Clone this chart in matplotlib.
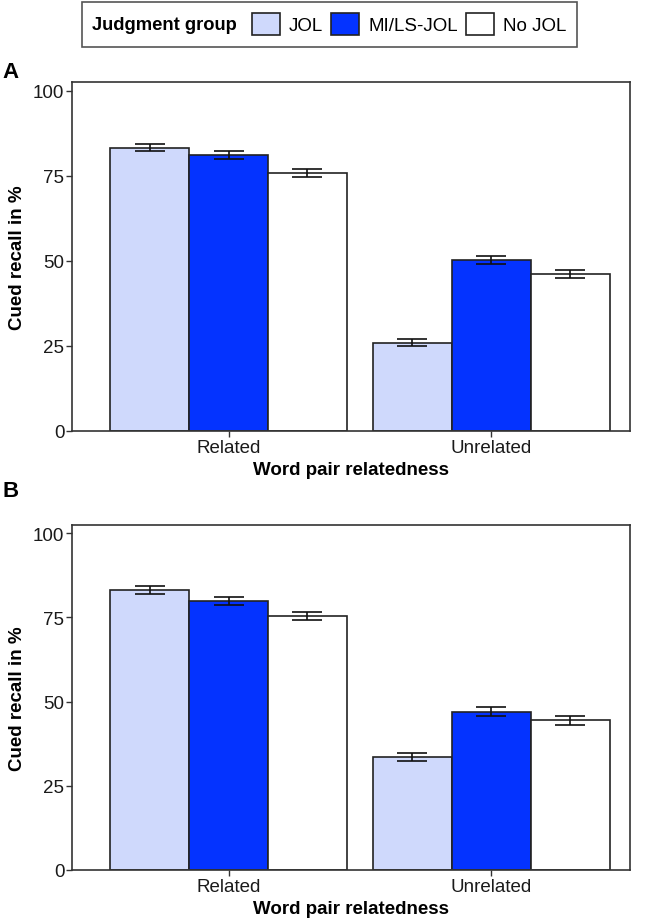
import numpy as np
import matplotlib
matplotlib.use("Agg")
import matplotlib.pyplot as plt
from matplotlib.patches import Rectangle, Patch

plt.rcParams['font.family'] = ['Liberation Sans', 'DejaVu Sans']

# data
relatedness = ["Related", "Unrelated"]
groups = ["JOL", "MI/LS-JOL", "No JOL"]
colors = ["#cfd9fc", "#0433ff", "#ffffff"]

recall_a = {"JOL": [83.3, 26.0], "MI/LS-JOL": [81.1, 50.3], "No JOL": [75.9, 46.1]}
err_a = {"JOL": [1.1, 1.1], "MI/LS-JOL": [1.1, 1.2], "No JOL": [1.1, 1.2]}

recall_b = {"JOL": [83.1, 33.6], "MI/LS-JOL": [79.8, 47.0], "No JOL": [75.4, 44.4]}
err_b = {"JOL": [1.1, 1.2], "MI/LS-JOL": [1.2, 1.3], "No JOL": [1.2, 1.3]}

yticks = [0, 25, 50, 75, 100]

W, H = 649, 920
fig = plt.figure(figsize=(W / 100, H / 100), dpi=100)

edge = "#222222"
spine_c = "#333333"


def panel(rect, recall, err, letter, letter_y):
    ax = fig.add_axes(rect)
    x = np.arange(len(relatedness))
    bw = 0.3
    for k, g in enumerate(groups):
        pos = x + (k - 1) * bw
        ax.bar(pos, recall[g], width=bw, color=colors[k], edgecolor=edge,
               linewidth=1.2, zorder=2)
        ax.errorbar(pos, recall[g], yerr=err[g], fmt="none", ecolor="#111111",
                    elinewidth=1.2, capsize=11, capthick=1.2, zorder=3)
    ax.set_xlim(-0.596, 1.528)
    ax.set_ylim(0, 102.6)
    ax.set_yticks(yticks)
    ax.set_xticks(x)
    ax.set_xticklabels(relatedness)
    ax.tick_params(axis="both", labelsize=13.5, color=spine_c, length=4.5,
                   width=1, labelcolor="#1a1a1a", pad=1)
    for s in ax.spines.values():
        s.set_color(spine_c)
        s.set_linewidth(1.2)
    ax.set_ylabel("Cued recall in %", fontsize=13.5, fontweight="bold", labelpad=5)
    ax.set_xlabel("Word pair relatedness", fontsize=13.5, fontweight="bold", labelpad=4)
    fig.text(2 / W, 1 - letter_y / H, letter, fontsize=16, fontweight="bold",
             ha="left", va="baseline")
    return ax


panel([72 / W, 1 - 432 / H, 558 / W, 349 / H], recall_a, err_a, "A", 78)
panel([72 / W, 1 - 871 / H, 558 / W, 345.5 / H], recall_b, err_b, "B", 497)

# legend box with title on the left
fig.patches.append(Rectangle((82 / W, 1 - 48 / H), 495 / W, 45 / H,
                             transform=fig.transFigure, facecolor="white",
                             edgecolor="#555555", linewidth=1.2))
fig.text(92 / W, 1 - 26 / H, "Judgment group", fontsize=13.2, fontweight="bold",
         ha="left", va="center")
handles = [Patch(facecolor=c, edgecolor=edge, linewidth=1.2) for c in colors]
fig.legend(handles, groups, ncol=3, loc="center left",
           bbox_to_anchor=(252 / W, 1 - 25 / H), frameon=False, fontsize=13.5,
           handlelength=1.5, handleheight=1.45, handletextpad=0.48,
           columnspacing=0.42, borderpad=0, borderaxespad=0)

fig.savefig("out.png", dpi=100)
